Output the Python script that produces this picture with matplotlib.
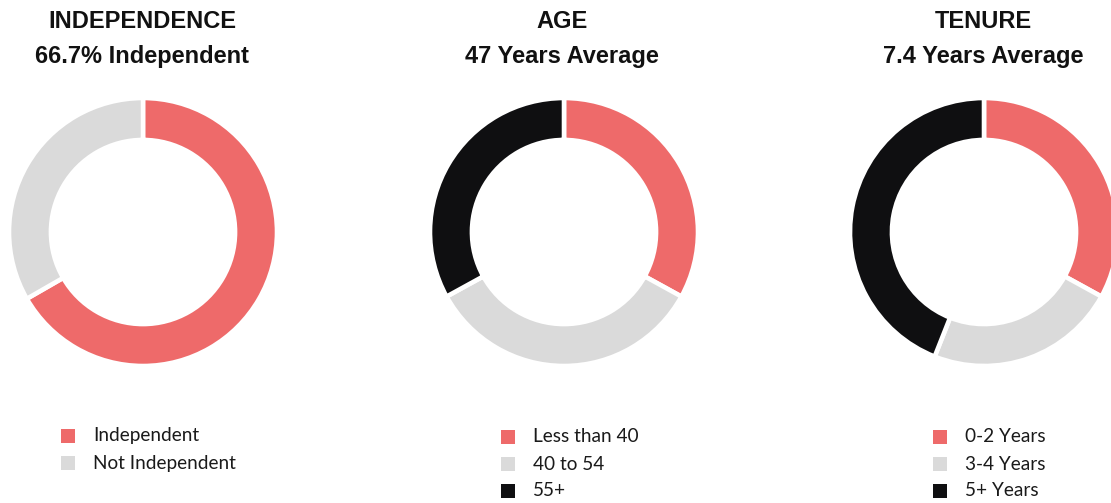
import matplotlib
matplotlib.use("Agg")
import matplotlib.pyplot as plt
from matplotlib.patches import Rectangle

W, H = 1111, 503
DPI = 100

titles = ["INDEPENDENCE", "AGE", "TENURE"]
subtitles = ["66.7% Independent", "47 Years Average", "7.4 Years Average"]

indep_labels = ["Independent", "Not Independent"]
indep_values = [66.7, 33.3]

age_labels = ["Less than 40", "40 to 54", "55+"]
age_values = [33, 34, 33]

tenure_labels = ["0-2 Years", "3-4 Years", "5+ Years"]
tenure_values = [33, 23, 44]

RED = "#EE6A6A"
GRAY = "#DADADA"
BLACK = "#0F0F11"
colors2 = [RED, GRAY]
colors3 = [RED, GRAY, BLACK]

fig = plt.figure(figsize=(W / DPI, H / DPI), dpi=DPI)
fig.patch.set_facecolor("white")

def fx(x):
    return x / W

def fy(y):
    return 1 - y / H

charts = [
    (indep_labels, indep_values, colors2, 143, 232, 142, 435),
    (age_labels, age_values, colors3, 564, 232, 562, 436),
    (tenure_labels, tenure_values, colors3, 984, 232, 983, 436),
]
legend_x = [68, 508, 940]
R = 134

for i, (labels, values, cols, cx, cy, tx, ly) in enumerate(charts):
    ax = fig.add_axes([fx(cx - R), fy(cy + R), 2 * R / W, 2 * R / H])
    wedges, _ = ax.pie(values, colors=cols, startangle=90, counterclock=False,
                       radius=1.0,
                       wedgeprops=dict(width=0.313, edgecolor="white", linewidth=3.3))
    ax.set_xlim(-1, 1)
    ax.set_ylim(-1, 1)
    ax.set_aspect("equal")
    ax.axis("off")
    for w in wedges:
        w.set_clip_on(False)

    fig.text(fx(tx), fy(21), titles[i], ha="center", va="center",
             fontsize=17, fontweight="bold", family="Liberation Sans", color="#111111")
    fig.text(fx(tx), fy(56), subtitles[i], ha="center", va="center",
             fontsize=17, fontweight="bold", family="Liberation Sans", color="#111111")

    lx = legend_x[i]
    for j, lab in enumerate(labels):
        yy = ly + 1 + j * 27
        s = 14
        fig.add_artist(Rectangle((fx(lx - s / 2), fy(yy + s / 2)), s / W, s / H,
                                 transform=fig.transFigure, facecolor=cols[j],
                                 edgecolor="none"))
        fig.text(fx(lx + 25), fy(yy), lab, ha="left", va="center",
                 fontsize=13.7, family="Lato", color="#1a1a1a")

fig.savefig("out.png", dpi=DPI, facecolor="white")
